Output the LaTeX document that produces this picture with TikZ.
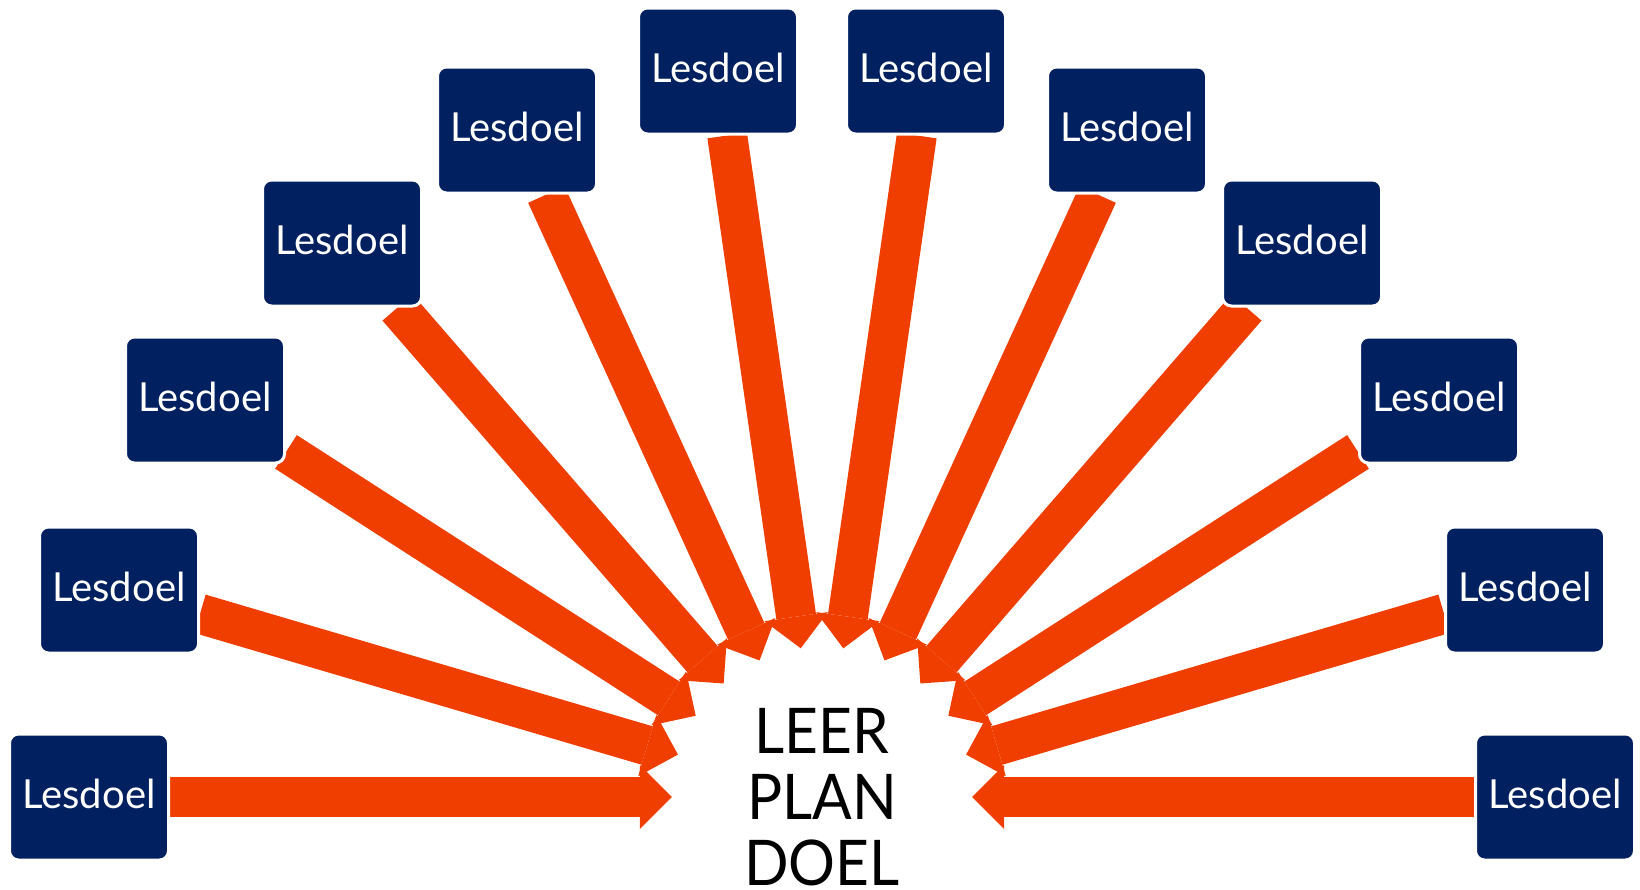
\documentclass[tikz,border=0pt]{standalone}
\usepackage{fontspec}
\setmainfont{Lato}
\newfontfamily\hubfont[FakeStretch=0.93]{Lato}
\usetikzlibrary{arrows.meta,backgrounds}
\definecolor{navy}{RGB}{0,32,96}
\definecolor{oranje}{RGB}{240,62,0}

\begin{document}
\begin{tikzpicture}[x=1pt,y=-1pt,
 doel/.style={fill=navy,draw=white,line width=3pt,rounded corners=9pt,
  minimum width=159pt,minimum height=126pt,inner sep=0pt,
  text=white,font=\fontsize{40}{40}\selectfont,text height=30pt,text depth=8pt},
 hub/.style={circle,minimum size=300pt,inner sep=0pt,align=center,
  font=\hubfont\fontsize{63}{66}\selectfont},
 pijl/.style={oranje,line width=40pt,
  -{Triangle[length=32pt,width=64pt,line width=0pt]}}]
\useasboundingbox (0,0) rectangle (1640,889);
\node[hub] (lpd) at (822,797) {LEER\\PLAN\\DOEL};
\node[doel] (ld1) at (89,797) {Lesdoel};
\node[doel] (ld2) at (119,590) {Lesdoel};
\node[doel] (ld3) at (205,400) {Lesdoel};
\node[doel] (ld4) at (342,243) {Lesdoel};
\node[doel] (ld5) at (517,130) {Lesdoel};
\node[doel] (ld6) at (718,71) {Lesdoel};
\node[doel] (ld7) at (926,71) {Lesdoel};
\node[doel] (ld8) at (1127,130) {Lesdoel};
\node[doel] (ld9) at (1302,243) {Lesdoel};
\node[doel] (ld10) at (1439,400) {Lesdoel};
\node[doel] (ld11) at (1525,590) {Lesdoel};
\node[doel] (ld12) at (1555,797) {Lesdoel};
\begin{pgfonlayer}{background}
\draw[pijl] (ld1)--(lpd);
\draw[pijl] (ld2)--(lpd);
\draw[pijl] (ld3)--(lpd);
\draw[pijl] (ld4)--(lpd);
\draw[pijl] (ld5)--(lpd);
\draw[pijl] (ld6)--(lpd);
\draw[pijl] (ld7)--(lpd);
\draw[pijl] (ld8)--(lpd);
\draw[pijl] (ld9)--(lpd);
\draw[pijl] (ld10)--(lpd);
\draw[pijl] (ld11)--(lpd);
\draw[pijl] (ld12)--(lpd);
\end{pgfonlayer}
\end{tikzpicture}
\end{document}
